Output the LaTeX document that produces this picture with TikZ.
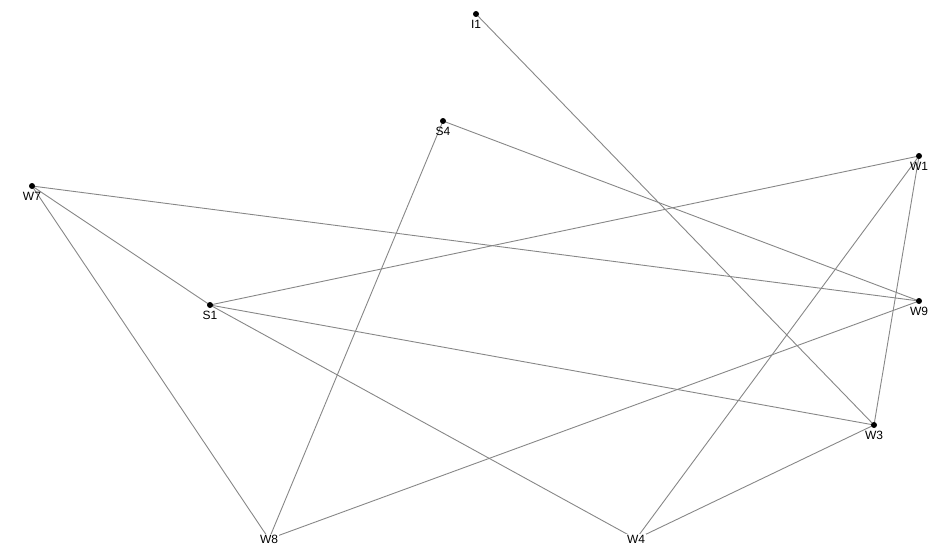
\documentclass[tikz,border=0pt]{standalone}
\usepackage{fontspec}
\setmainfont{Liberation Sans}
\begin{document}
\begin{tikzpicture}[x=1pt,y=-1pt,
  vdot/.style={circle,fill=black,inner sep=0pt,minimum size=6pt},
  edge/.style={draw=black!47,line width=0.9pt},
  lbl/.style={font=\fontsize{12}{13}\selectfont,inner sep=1pt,anchor=north},
  lblw/.style={font=\fontsize{12}{13}\selectfont,inner sep=1pt,fill=white}]
\useasboundingbox (0,0) rectangle (950,551);
\coordinate (I1) at (476,14);
\coordinate (S4) at (443,121);
\coordinate (W1) at (919,156);
\coordinate (W7) at (32,186);
\coordinate (S1) at (210,305);
\coordinate (W9) at (919,301);
\coordinate (W3) at (874,425);
\coordinate (W8) at (269,539);
\coordinate (W4) at (636,539);
\draw[edge] (I1) -- (W3);
\draw[edge] (S4) -- (W9);
\draw[edge] (S4) -- (W8);
\draw[edge] (W7) -- (W9);
\draw[edge] (W7) -- (S1);
\draw[edge] (W7) -- (W8);
\draw[edge] (S1) -- (W1);
\draw[edge] (S1) -- (W3);
\draw[edge] (S1) -- (W4);
\draw[edge] (W1) -- (W4);
\draw[edge] (W1) -- (W3);
\draw[edge] (W9) -- (W8);
\draw[edge] (W3) -- (W4);
\foreach \n in {I1,S4,W1,W7,S1,W9,W3,W8,W4} \node[vdot] (d\n) at (\n) {};
\foreach \n in {I1,S4,W1,W7,S1,W9,W3} \node[lbl] (l\n) at ([yshift=-5pt]\n) {\n};
\node[lblw] (lW8) at (W8) {W8};
\node[lblw] (lW4) at (W4) {W4};
\end{tikzpicture}
\end{document}
